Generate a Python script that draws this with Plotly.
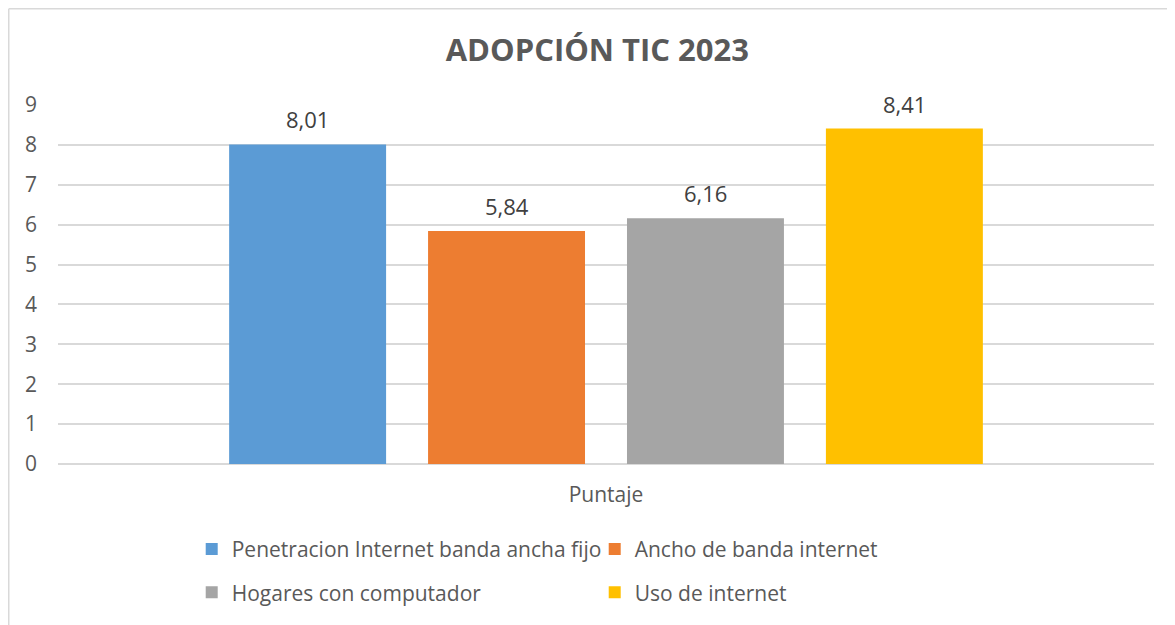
import plotly.graph_objects as go

categories = ["Puntaje"]
series_names = [
    "Penetracion Internet banda ancha fijo",
    "Ancho de banda internet",
    "Hogares con computador",
    "Uso de internet",
]
series_values = [8.01, 5.84, 6.16, 8.41]
series_colors = ["#5B9BD5", "#ED7D31", "#A5A5A5", "#FFC000"]
legend_ids = ["legend", "legend", "legend2", "legend2"]
y_ticks = [0, 1, 2, 3, 4, 5, 6, 7, 8, 9]

FONT = "Open Sans, Liberation Sans, sans-serif"
TXT = "#595959"

W, H = 1167, 617  # page body adds an 8px margin
ML, MR, MT, MB = 50, 21, 97, 161
BARGAP, BARGROUPGAP = 0.274, 0.211

fig = go.Figure()
for name, val, col, lg in zip(series_names, series_values, series_colors, legend_ids):
    fig.add_trace(go.Bar(
        x=categories, y=[val], name=name, marker=dict(color=col, line=dict(width=0)),
        legend=lg,
    ))

# data labels above each bar (anchored on the bar's value)
plot_w = W - ML - MR
slot = plot_w * (1 - BARGAP) / len(series_values)
n = len(series_values)
for i, val in enumerate(series_values):
    fig.add_annotation(
        x=categories[0], y=val, xref="x", yref="y",
        text=f"{val:.2f}".replace(".", ","), showarrow=False,
        xshift=(i - (n - 1) / 2) * slot, yshift=25, yanchor="middle",
        font=dict(size=22, color="#404040", family=FONT),
    )

fig.update_layout(
    width=W, height=H,
    paper_bgcolor="white", plot_bgcolor="white",
    separators=",.",
    barmode="group", bargap=BARGAP, bargroupgap=BARGROUPGAP,
    margin=dict(l=ML, r=MR, t=MT, b=MB),
    font=dict(family=FONT, color=TXT, size=21),
    title=dict(text="<b>ADOPCIÓN TIC 2023</b>", x=0.505, xanchor="center",
               y=1 - 42 / H, yanchor="middle", yref="container",
               font=dict(size=31, color=TXT, family=FONT)),
    xaxis=dict(showgrid=False, showline=False, zeroline=False, ticks="",
               ticklabelstandoff=16, tickfont=dict(size=21, color=TXT)),
    yaxis=dict(range=[0, 9], tickvals=y_ticks, showgrid=True, gridcolor="#D9D9D9",
               gridwidth=1.5, zeroline=True, zerolinecolor="#D9D9D9", zerolinewidth=1.5,
               showline=False, ticks="", ticklabelstandoff=20,
               tickfont=dict(size=21, color=TXT)),
    legend=dict(orientation="h", x=0.122, xanchor="left", xref="paper",
                y=0.156, yanchor="top", yref="container",
                entrywidth=358, entrywidthmode="pixels", font=dict(size=21, color=TXT),
                bgcolor="rgba(0,0,0,0)", itemclick=False, traceorder="normal"),
    legend2=dict(orientation="h", x=0.122, xanchor="left", xref="paper",
                 y=0.0856, yanchor="top", yref="container",
                 entrywidth=358, entrywidthmode="pixels", font=dict(size=21, color=TXT),
                 bgcolor="rgba(0,0,0,0)", itemclick=False, traceorder="normal"),
    showlegend=True,
)

# chart area border (left and top edges visible)
bx = (0.75 - ML) / plot_w
by = 1 + (MT - 0.75) / (H - MT - MB)
fig.add_shape(type="line", xref="paper", yref="paper",
              x0=bx, x1=bx, y0=by, y1=-0.5,
              line=dict(color="#D9D9D9", width=1.5), layer="below")
fig.add_shape(type="line", xref="paper", yref="paper",
              x0=bx, x1=1.1, y0=by, y1=by,
              line=dict(color="#D9D9D9", width=1.5), layer="below")

fig.write_html("out.html")
